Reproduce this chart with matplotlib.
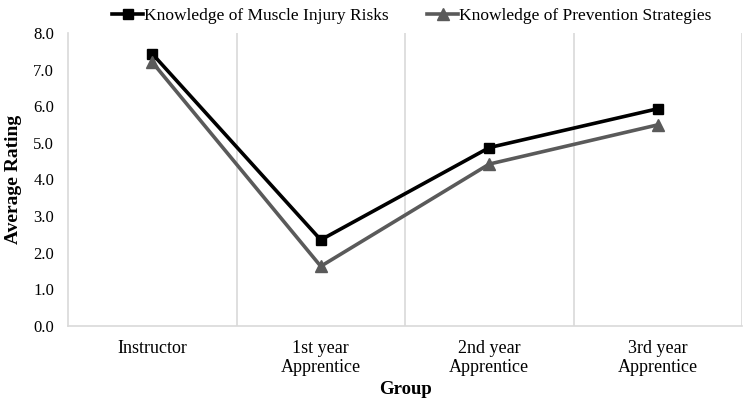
import numpy as np
import matplotlib.pyplot as plt

plt.rcParams['font.family'] = ['Liberation Serif', 'DejaVu Serif']

groups = ['Instructor', '1st year\nApprentice', '2nd year\nApprentice', '3rd year\nApprentice']
injury_risks = [7.43, 2.35, 4.87, 5.93]
prevention = [7.2, 1.63, 4.42, 5.49]

fig = plt.figure(figsize=(7.44, 4.01), dpi=100)
ax = fig.add_axes([0.0914, 0.187, 0.906, 0.731])

x = np.arange(len(groups))
ax.plot(x, injury_risks, color='black', linewidth=2.6, marker='s', markersize=7,
        label='Knowledge of Muscle Injury Risks', zorder=3)
ax.plot(x, prevention, color='#5a5a5a', linewidth=2.6, marker='^', markersize=8,
        label='Knowledge of Prevention Strategies', zorder=3)

ax.set_xlim(-0.5, 3.5)
ax.set_ylim(0, 8)
ax.set_yticks(np.arange(0, 9, 1))
ax.set_yticklabels(['%.1f' % v for v in np.arange(0, 9, 1)], fontsize=12)
ax.set_xticks(x)
ax.set_xticklabels(groups, fontsize=13, linespacing=1.15)
ax.set_xticks([0.5, 1.5, 2.5, 3.5], minor=True)
ax.grid(which='minor', axis='x', color='#d9d9d9', linewidth=1.2)
ax.tick_params(which='both', length=0)
ax.tick_params(axis='x', pad=10)
ax.tick_params(axis='y', pad=10)

for s in ['top', 'right']:
    ax.spines[s].set_visible(False)
for s in ['left', 'bottom']:
    ax.spines[s].set_color('#d9d9d9')
    ax.spines[s].set_linewidth(1.2)

ax.set_ylabel('Average Rating', fontsize=14, fontweight='bold', labelpad=8)
ax.set_xlabel('Group', fontsize=13.5, fontweight='bold', labelpad=4)

ax.legend(loc='lower center', bbox_to_anchor=(0.51, 1.005), ncol=2, frameon=False,
          fontsize=12.5, handlelength=1.8, handletextpad=0.05, columnspacing=2.2,
          borderaxespad=0)

plt.savefig('out.png', dpi=100)
